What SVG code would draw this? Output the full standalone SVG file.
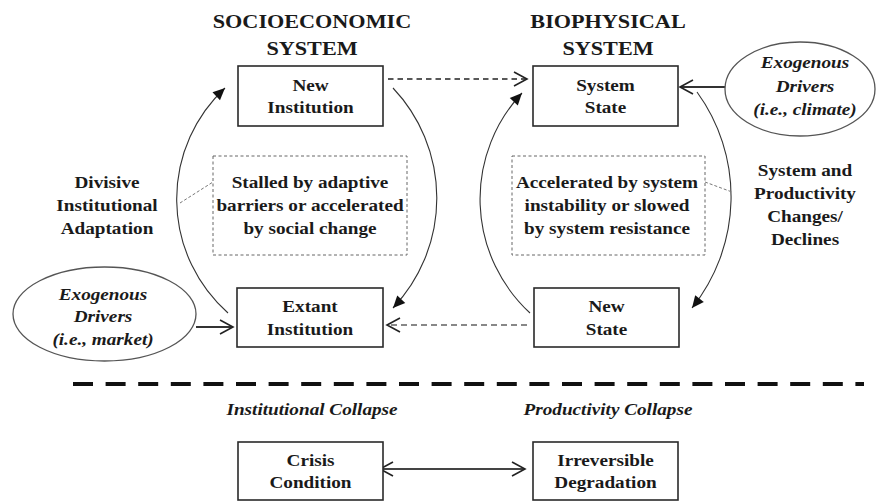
<svg xmlns="http://www.w3.org/2000/svg" width="876" height="502" viewBox="0 0 876 502">
<defs>
<style>
text{font-family:"Liberation Serif","Times New Roman",serif;font-size:16px;font-weight:bold;fill:#1a1a1a;text-anchor:middle}
.hd{font-size:18.5px}
.it{font-style:italic}
.box{fill:#fff;stroke:#2a2a2a;stroke-width:1.6}
.dbox{fill:none;stroke:#666;stroke-width:1;stroke-dasharray:3 2.5}
.ell{fill:#fff;stroke:#555;stroke-width:1.3}
.arc{fill:none;stroke:#333;stroke-width:1.1}
.lead{fill:none;stroke:#777;stroke-width:1;stroke-dasharray:3 2}
</style>
<marker id="chev" viewBox="-15 -9 17 18" refX="0" refY="0" markerWidth="17" markerHeight="18" orient="auto-start-reverse" markerUnits="userSpaceOnUse">
<path d="M-13,-7 L0,0 L-13,7" fill="none" stroke="#222" stroke-width="1.6"/>
</marker>
<marker id="tri" viewBox="-13 -7 15 14" refX="0" refY="0" markerWidth="15" markerHeight="14" orient="auto" markerUnits="userSpaceOnUse">
<path d="M-12,-5.5 L0,0 L-12,5.5 Z" fill="#111"/>
</marker>
</defs>
<rect width="876" height="502" fill="#fff"/>

<g id="headers">
<text class="hd" transform="translate(312 0) scale(1.2 1)"><tspan x="0" y="28">SOCIOECONOMIC</tspan><tspan x="0" y="55">SYSTEM</tspan></text>
<text class="hd" transform="translate(608 0) scale(1.2 1)"><tspan x="0" y="28">BIOPHYSICAL</tspan><tspan x="0" y="55">SYSTEM</tspan></text>
</g>

<g id="connectors">
<path class="arc" d="M228,313 A152,152 0 0 1 225,88" marker-end="url(#tri)"/>
<path class="arc" d="M393,88 A160,160 0 0 1 393,308" marker-end="url(#tri)"/>
<path class="arc" d="M530,313 A155,155 0 0 1 522,93" marker-end="url(#tri)"/>
<path class="arc" d="M697,92 A178,178 0 0 1 692,308" marker-end="url(#tri)"/>
<path d="M388,79 L527,79" fill="none" stroke="#222" stroke-width="1.6" stroke-dasharray="5.5 4" marker-end="url(#chev)"/>
<path d="M527,325 L387,325" fill="none" stroke="#888" stroke-width="2.2" stroke-dasharray="6 4" marker-end="url(#chev)"/>
<path d="M196,327 L233,327" fill="none" stroke="#333" stroke-width="2" marker-end="url(#chev)"/>
<path d="M725,87 L680,87" fill="none" stroke="#333" stroke-width="2" marker-end="url(#chev)"/>
<path d="M380,469 L525,469" fill="none" stroke="#444" stroke-width="2.2" marker-start="url(#chev)" marker-end="url(#chev)"/>
<path class="lead" d="M180,203 L213,182"/>
<path class="lead" d="M705,182 L732,192"/>
<path d="M73,384 L864,384" fill="none" stroke="#111" stroke-width="4" stroke-dasharray="20 12.6"/>
</g>

<g id="new-institution">
<rect class="box" x="238" y="66" width="145" height="60"/>
<text transform="translate(310.5 0) scale(1.2 1)"><tspan x="0" y="91">New</tspan><tspan x="0" y="113">Institution</tspan></text>
</g>
<g id="system-state">
<rect class="box" x="533" y="66" width="145" height="60"/>
<text transform="translate(605.5 0) scale(1.2 1)"><tspan x="0" y="91">System</tspan><tspan x="0" y="113">State</tspan></text>
</g>
<g id="extant-institution">
<rect class="box" x="237" y="288" width="146" height="59"/>
<text transform="translate(310 0) scale(1.2 1)"><tspan x="0" y="312">Extant</tspan><tspan x="0" y="335">Institution</tspan></text>
</g>
<g id="new-state">
<rect class="box" x="534" y="288" width="145" height="59"/>
<text transform="translate(606.5 0) scale(1.2 1)"><tspan x="0" y="312">New</tspan><tspan x="0" y="335">State</tspan></text>
</g>
<g id="crisis-condition">
<rect class="box" x="238" y="442" width="145" height="58"/>
<text transform="translate(310.5 0) scale(1.2 1)"><tspan x="0" y="466">Crisis</tspan><tspan x="0" y="488">Condition</tspan></text>
</g>
<g id="irreversible-degradation">
<rect class="box" x="533" y="442" width="145" height="58"/>
<text transform="translate(605.5 0) scale(1.2 1)"><tspan x="0" y="466">Irreversible</tspan><tspan x="0" y="488">Degradation</tspan></text>
</g>

<g id="stalled-note">
<rect class="dbox" x="213" y="156" width="194" height="99"/>
<text transform="translate(310 0) scale(1.2 1)"><tspan x="0" y="188">Stalled by adaptive</tspan><tspan x="0" y="211">barriers or accelerated</tspan><tspan x="0" y="234">by social change</tspan></text>
</g>
<g id="accelerated-note">
<rect class="dbox" x="512" y="156" width="193" height="99"/>
<text transform="translate(607 0) scale(1.2 1)"><tspan x="0" y="188">Accelerated by system</tspan><tspan x="0" y="211">instability or slowed</tspan><tspan x="0" y="234">by system resistance</tspan></text>
</g>

<g id="divisive-label">
<text transform="translate(107 0) scale(1.2 1)"><tspan x="0" y="188">Divisive</tspan><tspan x="0" y="211">Institutional</tspan><tspan x="0" y="234">Adaptation</tspan></text>
</g>
<g id="changes-label">
<text transform="translate(805 0) scale(1.2 1)"><tspan x="0" y="176">System and</tspan><tspan x="0" y="199">Productivity</tspan><tspan x="0" y="222">Changes/</tspan><tspan x="0" y="245">Declines</tspan></text>
</g>

<g id="drivers-climate">
<ellipse class="ell" cx="800" cy="89" rx="75" ry="47"/>
<text class="it" transform="translate(805 0) scale(1.2 1)"><tspan x="0" y="68">Exogenous</tspan><tspan x="0" y="92">Drivers</tspan><tspan x="0" y="115">(i.e., climate)</tspan></text>
</g>
<g id="drivers-market">
<ellipse class="ell" cx="104.5" cy="314" rx="91.5" ry="47"/>
<text class="it" transform="translate(103 0) scale(1.2 1)"><tspan x="0" y="300">Exogenous</tspan><tspan x="0" y="322">Drivers</tspan><tspan x="0" y="345">(i.e., market)</tspan></text>
</g>

<g id="collapse-labels">
<text class="it" transform="translate(312 0) scale(1.2 1)"><tspan x="0" y="415">Institutional Collapse</tspan></text>
<text class="it" transform="translate(608 0) scale(1.2 1)"><tspan x="0" y="415">Productivity Collapse</tspan></text>
</g>
</svg>
